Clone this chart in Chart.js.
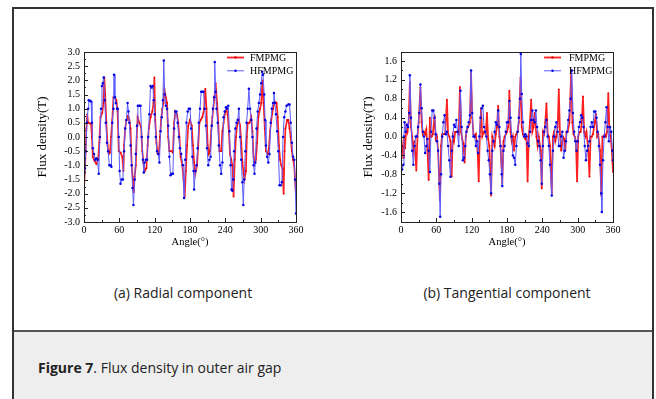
<!DOCTYPE html>
<html><head><meta charset="utf-8">
<script src="https://cdn.jsdelivr.net/npm/chart.js@4/dist/chart.umd.min.js"></script>
<style>
html,body{margin:0;padding:0;background:#fff;}
body{width:656px;height:399px;position:relative;overflow:hidden;font-family:"Open Sans",sans-serif;}
#frame{position:absolute;left:12px;top:7px;width:638px;height:400px;border:2px solid #333;border-bottom:none;}
#bottom{position:absolute;left:14px;top:330px;width:638px;height:70px;background:#eeeeee;border-top:2px solid #555;}
.wrap{position:absolute;top:0;}
.cap{position:absolute;top:283px;width:300px;text-align:center;font-size:14px;color:#222;white-space:nowrap;}
#fig{position:absolute;left:38px;top:358px;font-size:14px;color:#222;white-space:nowrap;}
</style></head>
<body>
<div id="frame"></div>
<div id="bottom"></div>
<div class="wrap" style="left:0;width:320px;height:260px;"><canvas id="c1" width="320" height="260"></canvas></div>
<div class="wrap" style="left:320px;width:336px;height:260px;"><canvas id="c2" width="336" height="260"></canvas></div>
<div class="cap" id="capA" style="left:33px;">(a) Radial component</div>
<div class="cap" id="capB" style="left:357px;">(b) Tangential component</div>
<div id="fig"><b>Figure 7</b>. Flux density in outer air gap</div>
<script>
const seriesNames = ['FMPMG', 'HFMPMG'];
const xTitle = 'Angle(°)';
const yTitle = 'Flux density(T)';
const angleTicks = [0, 60, 120, 180, 240, 300, 360];
const radialTicks = [-3.0, -2.5, -2.0, -1.5, -1.0, -0.5, 0.0, 0.5, 1.0, 1.5, 2.0, 2.5, 3.0];
const tangentialTicks = [-1.6, -1.2, -0.8, -0.4, 0.0, 0.4, 0.8, 1.2, 1.6];

const radialFMAngles = [
0,2,4,5.5,7,10,12,13.5,15,18,
21,24,26,28,31,33,34.5,36,38,40,
42,44,46,48,50,52,55,57,59,62,
65,67,68,70,72,75,77,79,81,83,
84.5,86,88,89.5,91,94,97,99,101,103,
106,108,110,113,116,118,119.5,121,123,125,
127,129,131,133,135,136.5,139,141,143,145,
148,151,153,155,158,160,162,164,167,169,
171,173,175,177,180,183,185,187,189,192,
194,196,198,201,204,206,208,210,212,214,
216,218,221,223.5,226,228,230,233,235,237,
239,242,244,246,248,250,252,254,256,258,
260,263,265,267,269,271,272.5,275,276.5,278,
281,284,286,288,290,292,294,296,299,301,
303,305,307,309,312,314,316,318,321,324,
327,329,331,333,335,337,339,340.5,342,345,
347,349,351,353,355,357,360];
const radialFMValues = [
-1.8,-1.0,0.3,0.8,0.5,0.48,0.47,0.0,-0.7,-0.85,
-0.95,-0.8,-0.2,0.7,0.85,1.2,2.1,1.5,0.5,-0.3,
-0.6,-0.55,0.0,0.6,1.4,1.4,1.3,0.9,-0.5,-0.55,
-0.7,-1.2,-0.3,0.3,0.6,0.75,0.6,0.3,-1.0,-1.5,
-1.95,-1.4,-1.0,0.0,0.7,0.5,0.35,-0.5,-0.9,-1.2,
-1.1,-0.3,0.3,0.7,0.9,1.2,2.1,0.6,-0.2,-0.6,
-0.6,0.0,0.6,1.0,1.2,1.7,1.4,1.2,0.0,-0.5,
-0.5,-0.55,0.5,0.9,0.8,0.5,0.0,-0.7,-1.0,-1.5,
-2.1,-1.2,-0.3,0.4,0.6,0.4,-0.3,-0.9,-1.3,-1.0,
-0.3,0.5,0.6,0.7,1.0,1.7,1.0,-0.3,-0.6,-0.5,
0.2,0.7,1.3,1.9,1.2,0.5,-0.5,-0.5,0.2,0.5,
0.8,1.0,0.8,0.2,-0.6,-0.8,-1.0,-2.1,-0.8,0.0,
0.4,0.6,0.4,-0.2,-0.9,-1.3,-1.5,-1.2,0.0,0.5,
0.5,0.7,0.2,-0.7,-0.9,-0.8,-0.2,0.7,1.0,1.2,
2.0,1.2,0.3,-0.5,-0.6,-0.4,0.2,0.6,1.0,1.25,
1.2,0.7,-0.3,-0.8,-1.0,-1.1,-2.0,-0.5,0.3,0.6,
0.6,0.3,0.0,-0.5,-0.8,-1.0,-2.1];

const radialHFAngles = [
0,1.5,3,5,7,8,10,12,13.5,15,
17,19,21,23,25,27,29,30.5,32,33.5,
35,37,39,41,43,45,46.5,48,50,51,
52.5,54,56,57.5,59,60.5,62,64,66,68,
70,72,74,75.5,77,79,81,82.5,84,86,
88,90,91.5,94,96,98,100,101.5,103,105,
107,109,111,113,115,117,118.5,120,122,124,
126,128,130,132,134,135.5,137,139,141,143,
145,147,149,151,153,155,157,159,161,163,
165,168,170,172,174,176,178,180,182,184,
186,187,189,191,193,195,197,199,201,203,
205,207,209,211,213,215,217,219,221,222,
223.5,225,227,229,231,233,235,237,239,241,
243,245,247,249,250.5,252,253.5,255,257,259,
261,263,265,267,269,270.5,272,274,276,278,
280,282,284,286,288,289.5,291,293,295,297,
299,301,302.5,304,306,307.5,309,311,313,315,
317,319,321,322.5,324,326,328,330,332,334,
336,338,340,342,344,347,349,351,353,355,
357,358.5,360];
const radialHFValues = [
-1.3,-1.1,-0.5,0.5,1.0,1.3,1.28,1.25,0.5,-0.4,
-0.6,-0.8,-0.75,-0.8,-1.3,0.0,1.0,1.8,1.9,2.1,
1.3,0.5,-0.2,-0.5,-1.0,-1.0,-1.05,0.5,1.0,2.2,
1.4,1.2,1.0,1.0,0.0,-1.2,-1.65,-1.5,-1.5,-0.5,
0.3,0.6,1.2,0.9,0.5,-0.3,-1.0,-1.8,-2.4,-1.5,
-0.6,0.4,1.1,1.1,1.1,0.0,-0.8,-1.25,-0.9,-0.8,
-0.8,0.0,0.8,1.8,1.75,1.8,1.3,0.8,0.0,-0.5,
-0.6,-0.9,0.2,0.7,1.3,2.7,1.5,1.1,1.0,0.4,
-0.7,-1.35,-1.3,-1.3,0.3,0.9,0.9,0.5,0.0,-0.4,
-0.6,-1.0,-2.15,-0.8,0.5,0.9,1.0,1.0,0.3,-0.7,
-1.2,-1.85,-1.2,-1.0,-0.4,0.5,1.0,1.6,1.6,1.6,
1.0,0.4,-0.4,-1.0,-0.8,-0.7,0.4,1.0,1.4,2.65,
1.6,1.0,0.5,-0.3,-1.0,-1.3,-0.9,0.7,0.9,1.05,
1.0,1.1,0.2,-1.0,-1.85,-1.9,-1.5,-0.5,0.3,0.5,
0.6,1.0,0.0,-0.8,-1.6,-2.4,-1.5,-0.5,0.5,1.0,
1.7,1.0,0.6,0.0,-1.0,-1.3,-0.9,0.3,0.9,1.2,
1.5,1.9,2.3,2.2,1.5,0.6,-0.3,-0.7,-0.9,-0.6,
0.5,1.0,1.2,1.55,1.2,0.8,0.2,-0.5,-1.7,-1.7,
-1.6,0.0,0.7,0.9,1.1,1.15,1.15,0.5,-0.2,-0.7,
-0.8,-1.5,-2.7];

const tangentialFMAngles = [
0,2,4,5,7,9,11,13,15,17,
19,21,23,26,28,30,33,35,37,39,
41,43,45,47,49,50,52,54,57,59,
61,63,66,68,70,73,75,78,80,82,
84,86,88,90,92,95,98,100,102,104,
106,108,110,112,114,117,119,121,123,125,
127,130,132,134,136,138,141,144,146,148,
150,153,155,157,159,161,163,165,167,169,
172,174,176,178,180,182,184,186,188,190,
192,194,196,198,200,203,205,207,209,211,
213,215,217,219,221,223,225,227,230,232,
234,237,239,241,243,245,247,249,251,253,
256,258,260,262,264,266,268,270,272,275,
277,279,281,283,286,289,291,293,295,297,
299,301,303,305,307,309,311,313,315,318,
320,322,324,326,329,331,333,335,338,340,
342,344,346,348,350,352,354,356,358,360];
const tangentialFMValues = [
0.0,-0.2,-0.45,0.0,-0.25,0.2,0.1,0.3,1.15,0.2,
0.0,-0.3,-0.1,-0.72,0.0,0.3,1.05,0.3,0.05,0.1,
0.05,0.15,-0.3,-0.92,0.4,0.0,0.0,0.05,0.45,-0.05,
0.0,-0.3,-1.35,-0.2,0.05,0.05,0.05,0.78,0.05,0.0,
-0.1,-0.85,0.0,-0.1,0.1,0.1,0.05,1.05,0.1,-0.05,
-0.15,-0.55,0.0,0.15,0.2,0.3,1.35,0.4,0.05,0.0,
0.05,-0.3,-0.95,0.1,0.6,0.0,0.1,0.05,0.5,-0.05,
-0.2,-1.25,0.0,-0.1,-0.2,0.05,0.2,0.65,0.0,-0.2,
-1.0,-0.1,0.0,0.05,0.1,0.2,0.97,0.1,-0.1,0.0,
-0.3,0.0,0.05,0.1,0.3,1.25,0.2,0.05,0.0,-0.05,
0.0,-0.95,0.0,0.3,0.78,0.1,0.2,0.5,0.0,-0.2,
0.0,-0.3,-1.1,0.1,0.05,0.3,0.7,0.05,0.0,-0.2,
-1.2,0.0,0.1,-0.1,0.0,0.2,1.0,0.05,-0.3,0.0,
-0.05,-0.3,0.1,0.1,0.3,1.4,0.3,0.05,0.0,-0.1,
-0.95,0.0,0.1,0.1,0.3,0.85,0.1,0.0,0.1,-0.3,
-0.85,0.0,0.0,0.05,0.3,0.48,0.0,0.05,-0.3,-1.25,
0.0,0.0,0.05,0.0,0.1,0.92,0.1,0.0,-0.3,-0.75];

const tangentialHFAngles = [
0,2,4,5,6,8,10,12,14,15,
17,19,21,23,25,27,29,31,33,35,
37,39,41,43,45,47,49,51,53,55,
57,59,61,63,65,66.5,68,70,72,74,
76,78,80,82,84,86,88,90,92,94,
96,98,101,103,105,107,109,111,113,115,
117,119,121,123,125,127,129,131,133,135,
137,139,141,143,145,147,149,151,153,155,
157,159,161,163,165,167,169,171,172,174,
176,178,180,182,184,186,188,190,192,194,
196,198,200,202,203.5,205,207,209,211,213,
215,217,219,221,223,225,227,229,231,233,
235,237,239,241,243,245,247,249,251,253,
256,258,260,262,264,266,268,270,272,274,
276,278,280,282,284,286,288,290,292,294,
296,298,300,302,304,306,308,310,312,314,
316,318,320,322,324,326,328,330,332,334,
336,338,340,341,343,345,347,349,351,353,
355,357,359,360];
const tangentialHFValues = [
-0.5,-0.7,-0.6,0.0,0.3,0.1,0.25,0.2,0.5,1.3,
0.4,-0.3,-0.6,-0.2,0.0,0.0,0.2,0.5,1.1,0.6,
0.1,0.0,-0.35,-0.2,-0.05,-0.3,-0.75,0.1,0.55,0.55,
0.4,0.05,-0.1,-0.3,-1.0,-1.7,-0.8,0.0,0.3,0.45,
0.05,0.1,-0.2,-0.5,-0.85,-0.3,0.0,0.25,0.2,0.35,
0.1,-0.2,0.97,0.2,-0.5,-0.45,-0.2,0.1,0.2,0.3,
0.45,1.4,0.5,0.0,0.0,-0.2,-0.1,-0.35,0.0,0.4,
0.6,0.65,0.2,0.1,0.0,-0.3,-0.5,-0.8,-1.2,-0.3,
-0.1,0.1,0.3,0.25,0.55,0.2,-0.2,-0.8,-1.05,-0.3,
-0.2,0.1,0.3,0.3,0.75,0.4,0.0,-0.4,-0.45,-0.6,
-0.2,0.1,0.4,0.8,1.75,0.9,0.3,0.0,0.05,0.0,
-0.15,-0.2,0.1,0.35,0.55,0.35,0.3,0.55,0.2,-0.1,
-0.2,-0.5,-1.0,-0.2,0.1,0.2,0.35,0.0,-0.2,-0.6,
-1.25,-0.3,0.0,0.2,0.3,0.1,-0.2,-0.2,0.0,0.1,
-0.45,-0.3,-0.1,0.1,0.35,0.55,0.8,1.4,0.5,0.1,
-0.1,-0.3,-0.1,0.2,0.3,0.45,0.4,0.2,-0.2,-0.5,
-0.3,-0.2,-0.1,0.2,0.3,0.2,0.53,0.53,0.4,0.1,
-0.2,-0.6,-1.2,-1.6,-0.5,0.0,0.3,0.62,0.2,-0.1,
0.2,0.1,-0.3,-0.5];

const SERIF = '"Liberation Serif", "Times New Roman", serif';
const redLine = '#ff2020', redPt = '#e00000';
const blueLine = '#5a5aff', bluePt = '#0000e0';

function pts(a, v) { return a.map((x, i) => ({ x: x, y: v[i] })); }

const decor = {
  id: 'decor',
  afterDraw(chart, args, o) {
    const ctx = chart.ctx;
    const { left, right, top, bottom } = chart.chartArea;
    const xs = chart.scales.x, ys = chart.scales.y;
    ctx.save();
    ctx.strokeStyle = '#222';
    ctx.lineWidth = 1;
    ctx.strokeRect(Math.round(left) + 0.5, Math.round(top) + 0.5, Math.round(right - left), Math.round(bottom - top));
    ctx.beginPath();
    const yt = ys.ticks.map(t => t.value);
    for (let i = 0; i < yt.length; i++) {
      const p = Math.round(ys.getPixelForValue(yt[i])) + 0.5;
      ctx.moveTo(left, p); ctx.lineTo(left + 4, p);
      if (i < yt.length - 1) {
        const m = Math.round(ys.getPixelForValue((yt[i] + yt[i + 1]) / 2)) + 0.5;
        ctx.moveTo(left, m); ctx.lineTo(left + 2, m);
      }
    }
    const xt = xs.ticks.map(t => t.value);
    for (let i = 0; i < xt.length; i++) {
      const p = Math.round(xs.getPixelForValue(xt[i])) + 0.5;
      ctx.moveTo(p, bottom); ctx.lineTo(p, bottom - 4);
      if (i < xt.length - 1) {
        const m = Math.round(xs.getPixelForValue((xt[i] + xt[i + 1]) / 2)) + 0.5;
        ctx.moveTo(m, bottom); ctx.lineTo(m, bottom - 2);
      }
    }
    ctx.stroke();
    ctx.fillStyle = '#000';
    ctx.textAlign = 'center';
    ctx.textBaseline = 'middle';
    ctx.font = '10.5px ' + SERIF;
    ctx.fillText(xTitle, (left + right) / 2, bottom + 20);
    ctx.save();
    ctx.translate(o.yTitleX, (top + bottom) / 2);
    ctx.rotate(-Math.PI / 2);
    ctx.font = '13px ' + SERIF;
    ctx.fillText(yTitle, 0, 0);
    ctx.restore();
    const items = [
      { t: seriesNames[0], lc: redLine, pc: redPt, lw: 1.8 },
      { t: seriesNames[1], lc: blueLine, pc: bluePt, lw: 1 }
    ];
    ctx.font = '10px ' + SERIF;
    ctx.textAlign = 'left';
    items.forEach((it, k) => {
      const y = top + 5.5 + k * 13.3;
      const x0 = right - 69, x1 = right - 52;
      ctx.strokeStyle = it.lc; ctx.lineWidth = it.lw;
      ctx.beginPath(); ctx.moveTo(x0, y); ctx.lineTo(x1, y); ctx.stroke();
      ctx.fillStyle = it.pc;
      ctx.beginPath(); ctx.arc((x0 + x1) / 2, y, 1.2, 0, Math.PI * 2); ctx.fill();
      ctx.fillStyle = '#000';
      ctx.fillText(it.t, right - o.textOff, y + 0.5);
    });
    ctx.restore();
  }
};

function makeChart(id, fm, hf, yMin, yMax, yTicks, leftW, rightPad, yTitleX, textOff) {
  return new Chart(document.getElementById(id), {
    type: 'scatter',
    data: {
      datasets: [
        { label: seriesNames[0], data: fm, showLine: true, borderColor: redLine, borderWidth: 1.7,
          pointRadius: 0.9, pointBackgroundColor: redPt, pointBorderWidth: 0, tension: 0, order: 1 },
        { label: seriesNames[1], data: hf, showLine: true, borderColor: blueLine, borderWidth: 1,
          pointRadius: 1.25, pointBackgroundColor: bluePt, pointBorderWidth: 0, tension: 0, order: 0 }
      ]
    },
    options: {
      responsive: false, animation: false, devicePixelRatio: 1,
      layout: { padding: { top: 52, right: rightPad, bottom: 0, left: 0 } },
      plugins: { legend: { display: false }, tooltip: { enabled: false },
                 decor: { yTitleX: yTitleX, textOff: textOff } },
      scales: {
        x: { type: 'linear', min: 0, max: 360,
             afterBuildTicks: s => { s.ticks = angleTicks.map(v => ({ value: v })); },
             afterFit: s => { s.height = 38; },
             grid: { display: false, drawTicks: false }, border: { display: false },
             ticks: { padding: 2, color: '#000', font: { family: SERIF, size: 10 }, maxRotation: 0,
                      autoSkip: false, callback: v => String(v) } },
        y: { type: 'linear', min: yMin, max: yMax,
             afterBuildTicks: s => { s.ticks = yTicks.map(v => ({ value: v })); },
             afterFit: s => { s.width = leftW; },
             grid: { display: false, drawTicks: false }, border: { display: false },
             ticks: { padding: 4, color: '#000', font: { family: SERIF, size: 10 },
                      autoSkip: false, callback: v => Number(v).toFixed(1) } }
      }
    },
    plugins: [decor]
  });
}

makeChart('c1', pts(radialFMAngles, radialFMValues), pts(radialHFAngles, radialHFValues),
  -3, 3, radialTicks, 84, 24, 43, 46);
makeChart('c2', pts(tangentialFMAngles, tangentialFMValues), pts(tangentialHFAngles, tangentialHFValues),
  -1.81, 1.79, tangentialTicks, 81, 43, 49, 44);
</script>
</body></html>
